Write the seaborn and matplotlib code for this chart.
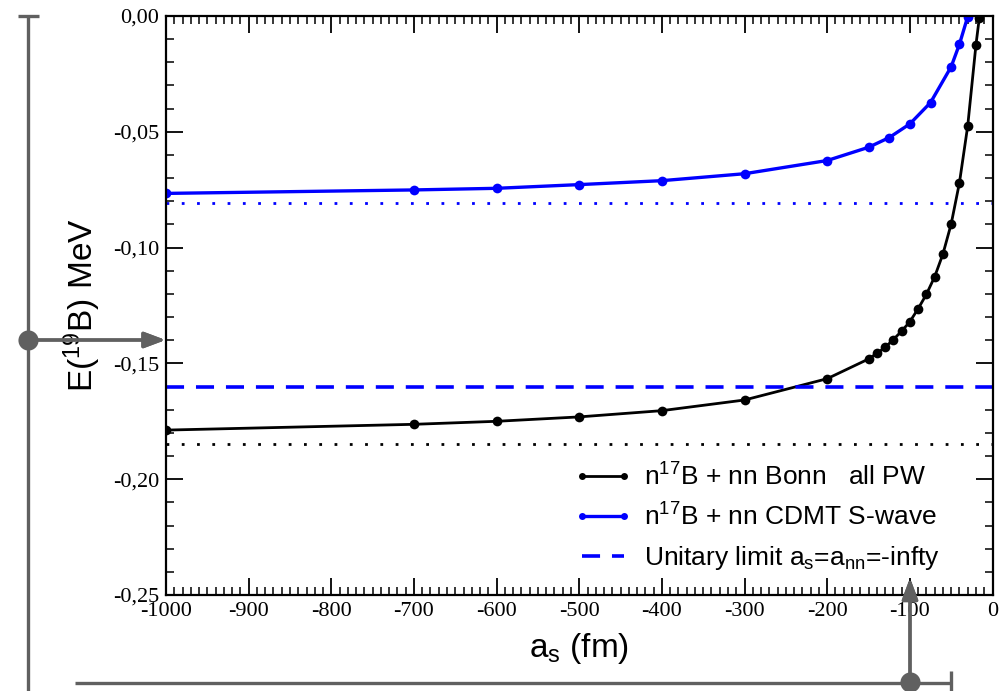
import numpy as np
import pandas as pd
import matplotlib
matplotlib.use("Agg")
import matplotlib.pyplot as plt
import seaborn as sns
from matplotlib.ticker import MultipleLocator, FuncFormatter
from matplotlib.lines import Line2D

# n17B + nn, Bonn potential, all partial waves
a_bonn = [-1000, -700, -600, -500, -400, -300, -200, -150, -140, -130, -120,
          -110, -100, -90, -80, -70, -60, -50, -40, -30, -20, -16]
E_bonn = [-0.1788, -0.1763, -0.1750, -0.1731, -0.1704, -0.1658, -0.1566,
          -0.1481, -0.1457, -0.1431, -0.1397, -0.1361, -0.1320, -0.1264,
          -0.1202, -0.1126, -0.1028, -0.0898, -0.0720, -0.0475, -0.0124,
          -0.0009]

# n17B + nn, CDMT, S-wave only
a_cdmt = [-1000, -700, -600, -500, -400, -300, -200, -150, -125, -100, -75,
          -50, -40, -30]
E_cdmt = [-0.0766, -0.0751, -0.0744, -0.0728, -0.0711, -0.0681, -0.0624,
          -0.0567, -0.0525, -0.0466, -0.0374, -0.0219, -0.0122, -0.0003]

# horizontal reference levels
E_unitary = -0.160
E_cdmt_limit = -0.0806
E_bonn_limit = -0.185

labels = ["n$^{17}$B + nn Bonn   all PW",
          "n$^{17}$B + nn CDMT S-wave",
          "Unitary limit a$_{\\rm s}$=a$_{\\rm nn}$=-infty"]

W, H = 1007, 691

sns.set_theme(style="ticks")
plt.rcParams["font.family"] = ["Liberation Sans", "DejaVu Sans"]
plt.rcParams["mathtext.fontset"] = "custom"
plt.rcParams["mathtext.rm"] = "Liberation Sans"
plt.rcParams["mathtext.default"] = "regular"
for key in ["text.color", "axes.labelcolor", "xtick.color", "ytick.color"]:
    plt.rcParams[key] = "black"

fig = plt.figure(figsize=(W / 100, H / 100), dpi=100)
ax = fig.add_axes([166 / W, 1 - 595 / H, (992.5 - 166) / W, (595 - 16) / H])

df_bonn = pd.DataFrame({"a": a_bonn, "E": E_bonn})
df_cdmt = pd.DataFrame({"a": a_cdmt, "E": E_cdmt})

sns.lineplot(data=df_bonn, x="a", y="E", ax=ax, color="black", lw=2.0,
             marker="o", markersize=7, markeredgewidth=0, label=labels[0])
sns.lineplot(data=df_cdmt, x="a", y="E", ax=ax, color="#0000ff", lw=2.4,
             marker="o", markersize=7, markeredgewidth=0, label=labels[1])
ax.axhline(E_unitary, color="#0000ff", lw=2.6, dashes=(5, 3.3), label=labels[2])
ax.axhline(E_cdmt_limit, color="#0000ff", lw=2.0, dashes=(1, 4.5))
ax.axhline(E_bonn_limit, color="black", lw=2.0, dashes=(1, 4.5))

ax.set_xlim(-1000, 0)
ax.set_ylim(-0.25, 0.0)
ax.xaxis.set_major_locator(MultipleLocator(100))
ax.xaxis.set_minor_locator(MultipleLocator(10))
ax.yaxis.set_major_locator(MultipleLocator(0.05))
ax.yaxis.set_minor_locator(MultipleLocator(0.01))
ax.xaxis.set_major_formatter(FuncFormatter(lambda v, _: f"{int(round(v))}"))
ax.yaxis.set_major_formatter(FuncFormatter(
    lambda v, _: ("0,00" if abs(v) < 1e-9 else f"{v:.2f}".replace(".", ","))))

ax.tick_params(which="major", direction="in", length=12, width=1.3,
               top=True, right=True, labelsize=16, pad=5, color="black")
ax.tick_params(which="minor", direction="in", length=6, width=1.1,
               top=True, right=True, color="black")
for lab in ax.get_xticklabels() + ax.get_yticklabels():
    lab.set_fontfamily("Liberation Serif")
for sp in ax.spines.values():
    sp.set_linewidth(1.6)
    sp.set_color("black")

ax.set_xlabel("a$_{\\rm s}$ (fm)", fontsize=24)
ax.set_ylabel("E($^{19}$B) MeV", fontsize=24)
ax.xaxis.set_label_coords(0.5, -0.062)
ax.yaxis.set_label_coords(-0.076, 0.5)

leg = ax.legend(loc="upper left", bbox_to_anchor=(0.494, 0.228), frameon=False,
                fontsize=19, numpoints=2, handlelength=2.2,
                handletextpad=0.45, labelspacing=0.5, borderpad=0,
                borderaxespad=0)
for h in leg.legend_handles:
    h.set_markersize(5)


# grey reading guides drawn in figure pixels
grey = "#606060"


def px(x, y):
    return (x / W, 1 - y / H)


def guide(x0, y0, x1, y1):
    (fx0, fy0), (fx1, fy1) = px(x0, y0), px(x1, y1)
    fig.add_artist(Line2D([fx0, fx1], [fy0, fy1], transform=fig.transFigure,
                          color=grey, lw=2.4, solid_capstyle="butt"))


guide(28.3, 16, 28.3, 691)
guide(18, 16, 38.5, 16)
guide(75, 683, 951, 683)
guide(951, 671, 951, 691)

arrow = dict(arrowstyle="-|>,head_length=0.4,head_width=0.15", color=grey,
             lw=2.4, mutation_scale=32, shrinkA=0, shrinkB=0)
fig.add_artist(ax.annotate("", xy=px(165.5, 340), xytext=px(28.3, 340),
                           xycoords="figure fraction",
                           textcoords="figure fraction", arrowprops=arrow,
                           annotation_clip=False))
fig.add_artist(ax.annotate("", xy=px(910, 578), xytext=px(910, 682),
                           xycoords="figure fraction",
                           textcoords="figure fraction", arrowprops=arrow,
                           annotation_clip=False))

for cx, cy in [(28.3, 340), (910, 682)]:
    fx, fy = px(cx, cy)
    fig.add_artist(Line2D([fx], [fy], transform=fig.transFigure, marker="o",
                          markersize=14.5, color=grey, markeredgewidth=0,
                          zorder=6))

fig.savefig("out.png", dpi=100)
